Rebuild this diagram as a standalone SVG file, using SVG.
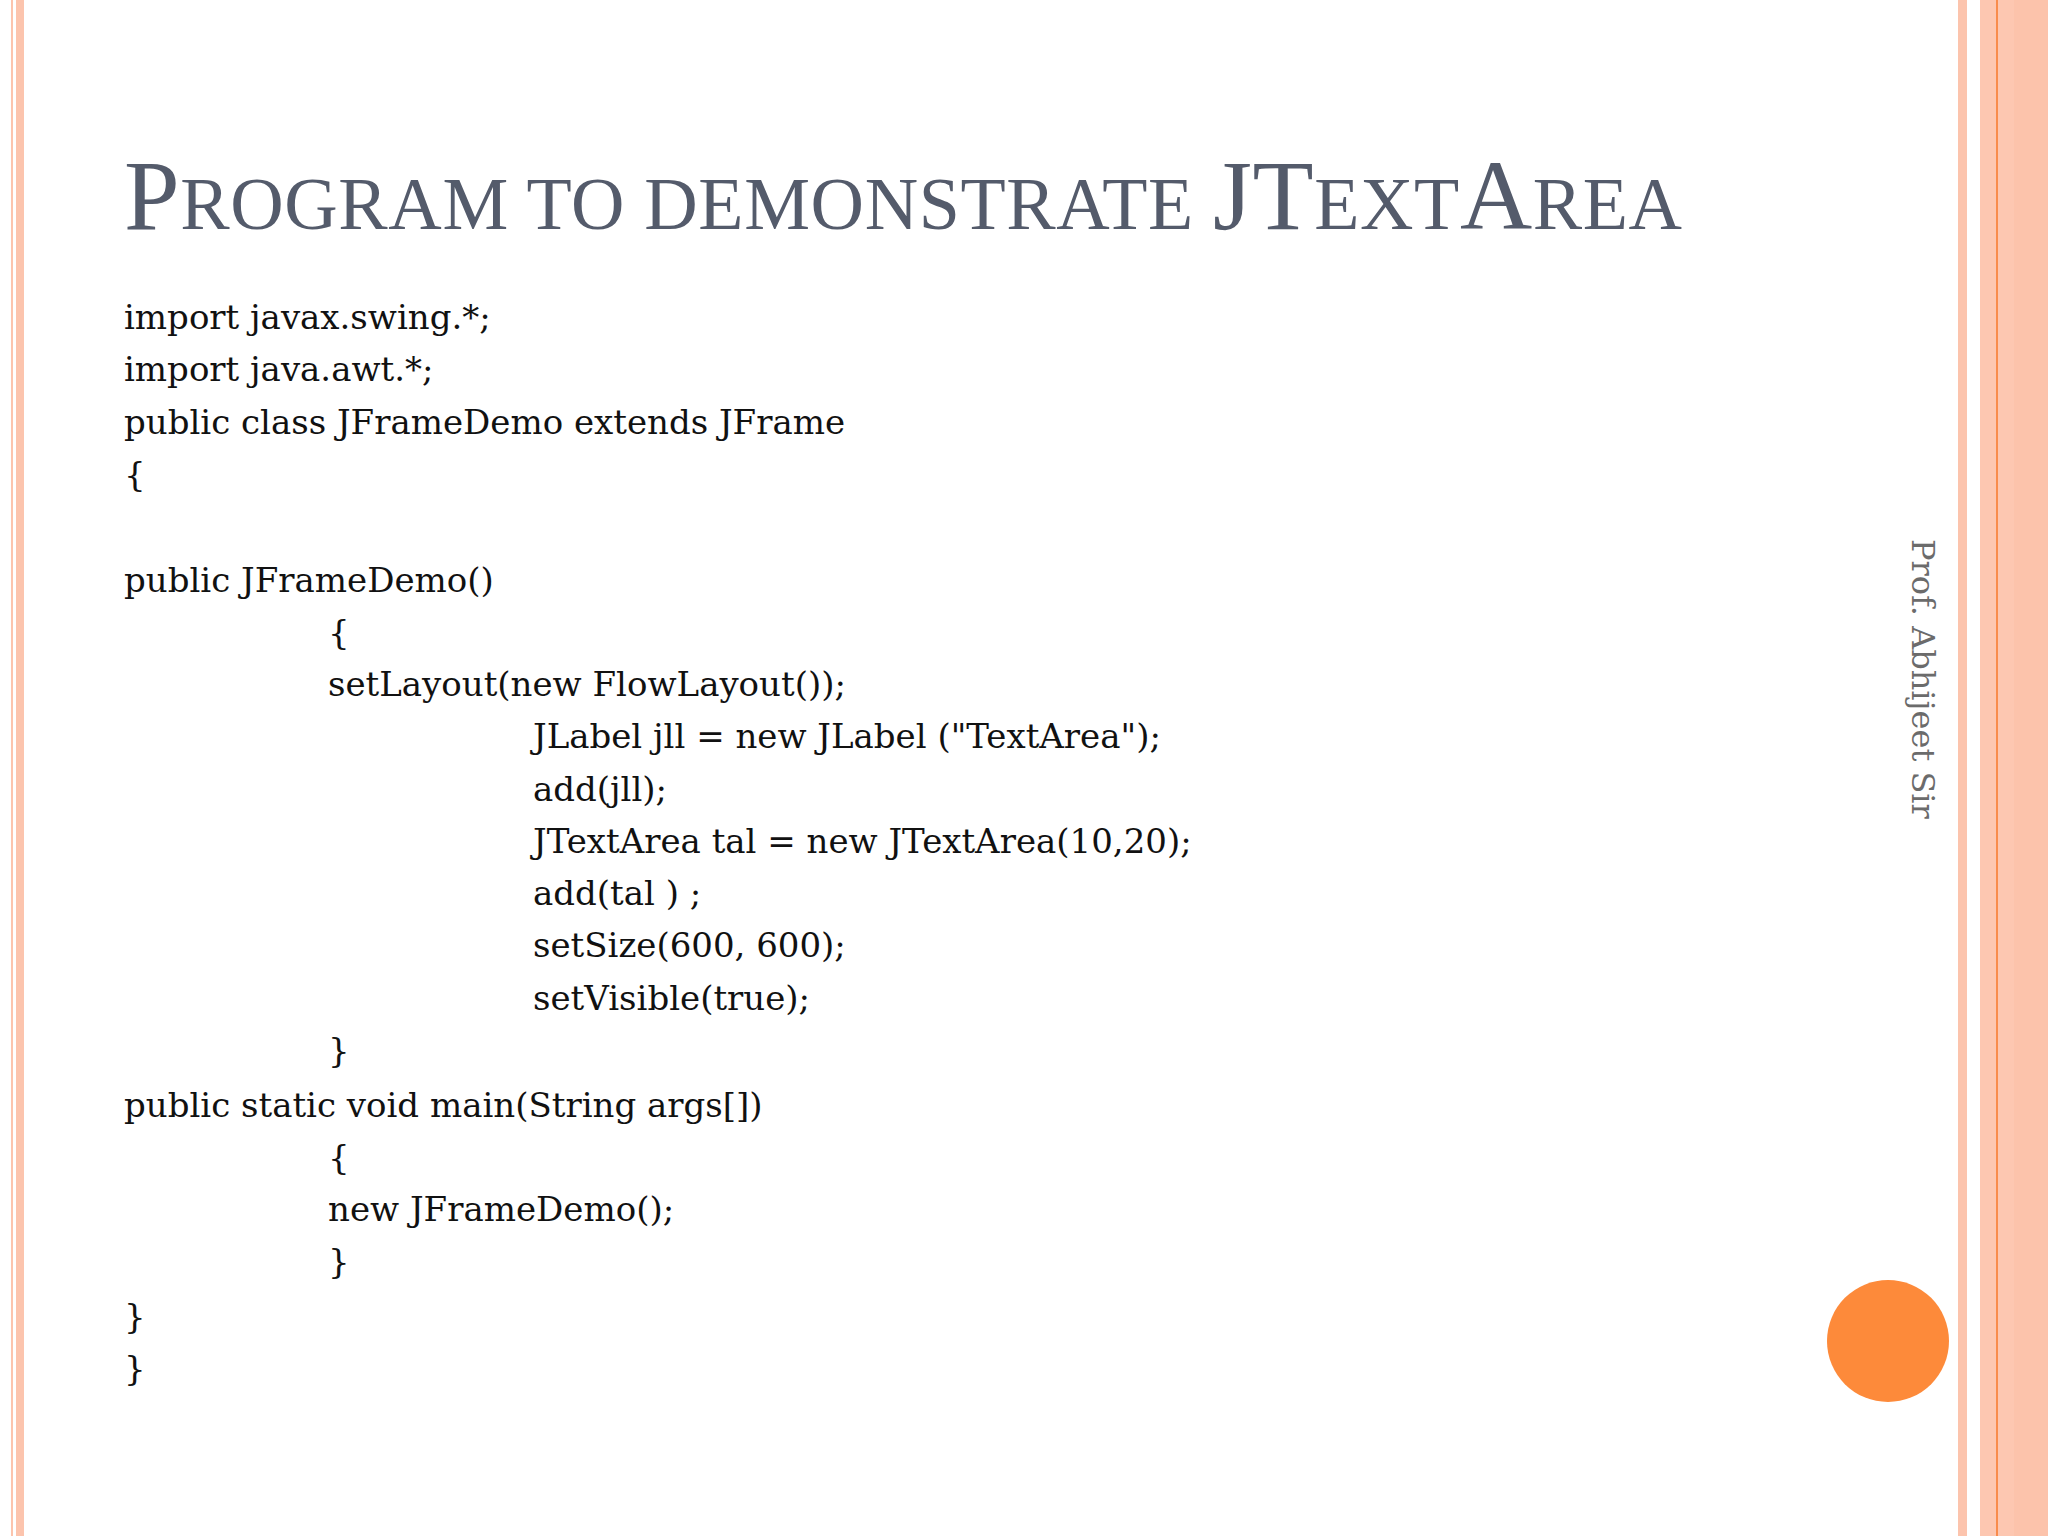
<svg xmlns="http://www.w3.org/2000/svg" width="2048" height="1536" viewBox="0 0 2048 1536">
<style>
.c{font-family:"DejaVu Serif","Liberation Serif",serif;font-size:34px;fill:#111}
.t{font-family:"Liberation Serif",serif;fill:#545b6b}
</style>
<rect width="2048" height="1536" fill="#fff"/>
<g id="borders">
<rect x="11" y="0" width="2" height="1536" fill="#fcc4ad"/>
<rect x="16" y="0" width="8" height="1536" fill="#fcc4ad"/>
<rect x="1958" y="0" width="9" height="1536" fill="#fcc4ad"/>
<rect x="1980" y="0" width="68" height="1536" fill="#fdc7b1"/>
<rect x="2014" y="0" width="34" height="1536" fill="#fcc3ab"/>
<rect x="1996" y="0" width="2" height="1536" fill="#f98c4c"/>
</g>
<g id="title"><text class="t" x="124" y="229" font-size="100" textLength="1558" lengthAdjust="spacing">P<tspan font-size="74">ROGRAM TO DEMONSTRATE </tspan>JT<tspan font-size="74">EXT</tspan>A<tspan font-size="74">REA</tspan></text></g>
<g id="code">
<text class="c" x="124" y="329">import javax.swing.*;</text>
<text class="c" x="124" y="381">import java.awt.*;</text>
<text class="c" x="124" y="434">public class JFrameDemo extends JFrame</text>
<text class="c" x="124" y="486">{</text>
<text class="c" x="124" y="592">public JFrameDemo()</text>
<text class="c" x="328" y="644">{</text>
<text class="c" x="328" y="696">setLayout(new FlowLayout());</text>
<text class="c" x="533" y="748">JLabel jll = new JLabel ("TextArea");</text>
<text class="c" x="533" y="801">add(jll);</text>
<text class="c" x="533" y="853">JTextArea tal = new JTextArea(10,20);</text>
<text class="c" x="533" y="905">add(tal ) ;</text>
<text class="c" x="533" y="957">setSize(600, 600);</text>
<text class="c" x="533" y="1010">setVisible(true);</text>
<text class="c" x="328" y="1062">}</text>
<text class="c" x="124" y="1117">public static void main(String args[])</text>
<text class="c" x="328" y="1169">{</text>
<text class="c" x="328" y="1221">new JFrameDemo();</text>
<text class="c" x="328" y="1273">}</text>
<text class="c" x="124" y="1328">}</text>
<text class="c" x="124" y="1380">}</text>
</g>
<g id="author"><text transform="translate(1912,539) rotate(90)" font-family="'DejaVu Serif',serif" font-size="32" fill="#6b6b6b">Prof. Abhijeet Sir</text></g>
<g id="dot"><circle cx="1888" cy="1341" r="61" fill="#fd8a3a"/></g>
</svg>
